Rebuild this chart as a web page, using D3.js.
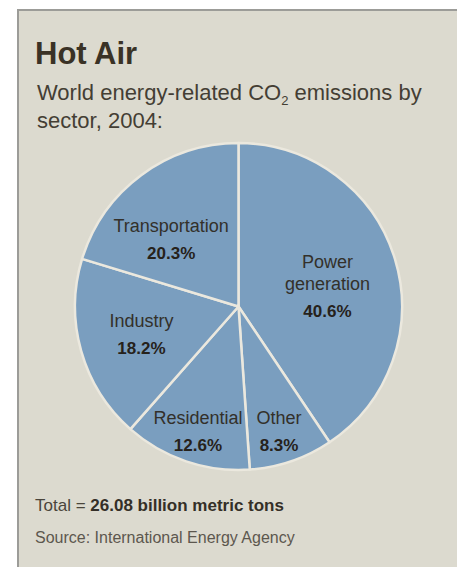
<!DOCTYPE html>
<html>
<head>
<meta charset="utf-8">
<script src="https://cdn.jsdelivr.net/npm/d3@7"></script>
<style>
  html, body { margin: 0; padding: 0; background: #fff; }
  svg { display: block; font-family: "Liberation Sans", Arial, sans-serif; }
</style>
</head>
<body>
<div id="chart"></div>
<script>
// sectors, clockwise from 12 o'clock
const sectors = ["Power generation", "Other", "Residential", "Industry", "Transportation"];
const shares = [40.6, 8.3, 12.6, 18.2, 20.3];
const labelLines = [["Power", "generation"], ["Other"], ["Residential"], ["Industry"], ["Transportation"]];

const width = 457, height = 567;
const cx = 238.5, cy = 306.5, radius = 163.5;

// label anchor: radius and angle nudge (degrees) per slice
const labelPlace = {
  "Power generation": { r: 90, da: 8 },
  "Other": { r: 137, da: 1.7 },
  "Residential": { r: 137, da: -1.5 },
  "Industry": { r: 103, da: -3.7 },
  "Transportation": { r: 91, da: -11.2 }
};

const svg = d3.select("#chart").append("svg")
  .attr("width", width)
  .attr("height", height);

// panel
svg.append("rect")
  .attr("x", 18).attr("y", 10)
  .attr("width", width).attr("height", height)
  .attr("fill", "#dcdacf")
  .attr("stroke", "#9c9c98")
  .attr("stroke-width", 2);

// title
svg.append("text")
  .attr("x", 35).attr("y", 64)
  .attr("font-size", 31)
  .attr("font-weight", "bold")
  .attr("fill", "#3a3226")
  .text("Hot Air");

// subtitle
const sub = svg.append("text")
  .attr("x", 37).attr("y", 100)
  .attr("font-size", 22)
  .attr("fill", "#443e34");
sub.append("tspan").text("World energy-related CO");
sub.append("tspan").attr("font-size", 13).attr("dy", 5).text("2");
sub.append("tspan").attr("dy", -5).text(" emissions by");
svg.append("text")
  .attr("x", 37).attr("y", 128)
  .attr("font-size", 22)
  .attr("fill", "#443e34")
  .text("sector, 2004:");

// pie
const pie = d3.pie().sort(null).value(d => d.value);
const data = sectors.map((s, i) => ({ name: s, value: shares[i], lines: labelLines[i] }));
const arcs = pie(data);

const arc = d3.arc().innerRadius(0).outerRadius(radius);

const g = svg.append("g").attr("transform", `translate(${cx},${cy})`);

g.selectAll("path")
  .data(arcs)
  .join("path")
  .attr("d", arc)
  .attr("fill", "#7a9ebf")
  .attr("stroke", "#ebe8de")
  .attr("stroke-width", 2.5)
  .attr("stroke-linejoin", "round");

// labels
const lineH = 22, pctGap = 27;
const labels = g.selectAll("g.lbl")
  .data(arcs)
  .join("g")
  .attr("class", "lbl")
  .attr("transform", d => {
    const p = labelPlace[d.data.name];
    const a = (d.startAngle + d.endAngle) / 2 + p.da * Math.PI / 180;
    const la = d3.arc().innerRadius(p.r).outerRadius(p.r).startAngle(a).endAngle(a);
    const [x, y] = la.centroid();
    return `translate(${x},${y})`;
  });

labels.each(function(d) {
  const n = d.data.lines.length;
  const total = (n - 1) * lineH + pctGap;
  const top = -total / 2;
  const t = d3.select(this);
  d.data.lines.forEach((ln, i) => {
    t.append("text")
      .attr("text-anchor", "middle")
      .attr("y", top + i * lineH)
      .attr("font-size", 18)
      .attr("fill", "#33302a")
      .text(ln);
  });
  t.append("text")
    .attr("text-anchor", "middle")
    .attr("y", top + (n - 1) * lineH + pctGap)
    .attr("font-size", 17)
    .attr("font-weight", "bold")
    .attr("fill", "#26221b")
    .text(d3.format(".1f")(d.data.value) + "%");
});

// footer
const tot = svg.append("text")
  .attr("x", 35).attr("y", 511)
  .attr("font-size", 17)
  .attr("fill", "#342f27");
tot.append("tspan").attr("fill", "#4a453b").text("Total = ");
tot.append("tspan").attr("font-weight", "bold").text("26.08 billion metric tons");

svg.append("text")
  .attr("x", 35).attr("y", 543)
  .attr("font-size", 16)
  .attr("fill", "#5c574e")
  .text("Source: International Energy Agency");
</script>
</body>
</html>
